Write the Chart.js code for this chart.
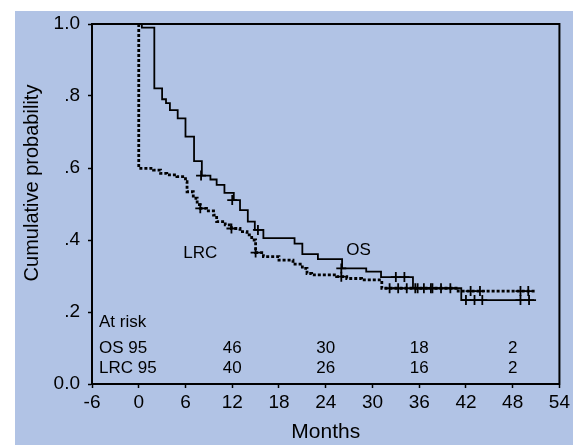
<!DOCTYPE html>
<html>
<head>
<meta charset="utf-8">
<script src="https://cdn.jsdelivr.net/npm/chart.js@4/dist/chart.umd.min.js"></script>
<style>
  html, body { margin: 0; padding: 0; background: #fff; }
  #wrap { width: 573px; height: 445px; }
</style>
</head>
<body>
<div id="wrap"><canvas id="km"></canvas></div>
<script>
// OS curve: month of each step and the probability after it
const osMonths = [0, 0.4, 2.0, 3.0, 3.5, 4.0, 5.0, 6.0, 7.1, 8.1, 9.2, 10.0, 11.0, 12.2, 13.0, 14.0, 14.9, 16.0, 20.0, 21.0, 23.0, 26.1, 29.2, 31.1, 35.2, 41.4, 51.0];
const osSurv = [1.0, 0.99, 0.821, 0.791, 0.78, 0.761, 0.738, 0.687, 0.619, 0.579, 0.568, 0.553, 0.531, 0.511, 0.483, 0.451, 0.428, 0.405, 0.39, 0.361, 0.347, 0.321, 0.312, 0.297, 0.266, 0.233, 0.233];

// LRC curve
const lrcMonths = [0, 0, 1.9, 2.8, 3.6, 4.9, 6.0, 6.2, 7.0, 7.5, 7.9, 8.7, 9.6, 10.0, 11.1, 11.9, 13.0, 13.9, 14.5, 15.0, 16.0, 18.0, 19.8, 21.0, 21.6, 22.2, 25.4, 26.7, 28.6, 31.2, 41.0, 51.0];
const lrcSurv = [1.0, 0.599, 0.594, 0.585, 0.581, 0.576, 0.562, 0.534, 0.516, 0.498, 0.488, 0.481, 0.469, 0.451, 0.442, 0.432, 0.423, 0.414, 0.40, 0.365, 0.354, 0.344, 0.333, 0.321, 0.307, 0.303, 0.298, 0.293, 0.289, 0.266, 0.258, 0.258];

// censored patients (+ marks)
const osCensMonths = [8.0, 12.0, 15.3, 26.0, 33.0, 34.1, 35.8, 37.5, 42.0, 43.1, 44.1, 49.0, 50.1];
const osCensSurv = [0.579, 0.511, 0.428, 0.321, 0.297, 0.297, 0.266, 0.266, 0.233, 0.233, 0.233, 0.233, 0.233];
const lrcCensMonths = [7.9, 11.9, 15.0, 26.0, 32.2, 33.3, 34.4, 35.5, 36.6, 37.7, 38.8, 40.0, 42.6, 43.8, 49.0, 50.0];
const lrcCensSurv = [0.488, 0.432, 0.365, 0.298, 0.266, 0.266, 0.266, 0.266, 0.266, 0.266, 0.266, 0.266, 0.258, 0.258, 0.258, 0.258];

// numbers at risk
const riskMonths = [12, 24, 36, 48];
const osAtRisk = [46, 30, 18, 2];
const lrcAtRisk = [40, 26, 16, 2];

const yTickLabels = ['0.0', '.2', '.4', '.6', '.8', '1.0'];

const FONT = '"Liberation Sans", Arial, sans-serif';

function pts(xs, ys) {
    return xs.map((m, i) => ({ x: m, y: ys[i] }));
}

const extras = {
    id: 'extras',
    beforeDraw(chart) {
        const ctx = chart.ctx;
        ctx.save();
        ctx.fillStyle = '#b1c3e5';
        ctx.fillRect(15, 11, chart.width - 15, chart.height - 11);
        ctx.restore();
    },
    afterDraw(chart) {
        const { ctx, chartArea: a } = chart;
        const x = chart.scales.x, y = chart.scales.y;
        ctx.save();
        ctx.strokeStyle = '#000';
        ctx.lineWidth = 2;
        ctx.strokeRect(a.left, a.top, a.right - a.left, a.bottom - a.top);

        ctx.fillStyle = '#000';
        ctx.textBaseline = 'middle';
        ctx.font = '17px ' + FONT;

        // curve labels
        ctx.textAlign = 'center';
        ctx.fillText('LRC', x.getPixelForValue(7.9), y.getPixelForValue(0.364));
        ctx.fillText('OS', x.getPixelForValue(28.2), y.getPixelForValue(0.372));

        // at risk table
        ctx.textAlign = 'left';
        const lx = x.getPixelForValue(-5.1);
        ctx.fillText('At risk', lx, y.getPixelForValue(0.17));
        ctx.fillText('OS 95', lx, y.getPixelForValue(0.099));
        ctx.fillText('LRC 95', lx, y.getPixelForValue(0.044));
        ctx.textAlign = 'center';
        riskMonths.forEach((m, i) => {
            ctx.fillText(String(osAtRisk[i]), x.getPixelForValue(m), y.getPixelForValue(0.099));
            ctx.fillText(String(lrcAtRisk[i]), x.getPixelForValue(m), y.getPixelForValue(0.044));
        });

        // y axis title
        ctx.translate(32, 183);
        ctx.rotate(-Math.PI / 2);
        ctx.font = '20px ' + FONT;
        ctx.fillText('Cumulative probability', 0, 0);
        ctx.restore();
    }
};

new Chart(document.getElementById('km'), {
    type: 'line',
    data: {
        datasets: [{
            label: 'OS',
            data: pts(osMonths, osSurv),
            borderColor: '#000',
            borderWidth: 1.8,
            stepped: 'before',
            pointRadius: 0,
            fill: false
        }, {
            label: 'LRC',
            data: pts(lrcMonths, lrcSurv),
            borderColor: '#000',
            borderWidth: 2.8,
            borderDash: [3, 2],
            stepped: 'before',
            pointRadius: 0,
            fill: false
        }, {
            label: 'OS censored',
            data: pts(osCensMonths, osCensSurv),
            showLine: false,
            pointStyle: 'cross',
            pointRadius: 5,
            borderColor: '#000',
            pointBorderWidth: 1.8
        }, {
            label: 'LRC censored',
            data: pts(lrcCensMonths, lrcCensSurv),
            showLine: false,
            pointStyle: 'cross',
            pointRadius: 5,
            borderColor: '#000',
            pointBorderWidth: 1.8
        }]
    },
    options: {
        responsive: true,
        maintainAspectRatio: false,
        animation: false,
        layout: { padding: { left: 0, top: 24, right: 12, bottom: 0 } },
        plugins: {
            legend: { display: false },
            tooltip: { enabled: false }
        },
        scales: {
            x: {
                type: 'linear',
                min: -6,
                max: 54,
                ticks: { stepSize: 6, color: '#000', font: { family: FONT, size: 19 }, padding: 3, maxRotation: 0 },
                grid: { drawOnChartArea: false, drawTicks: true, tickLength: 4, tickColor: '#000', tickWidth: 1.5 },
                border: { color: '#000', width: 2 },
                title: { display: true, text: 'Months', color: '#000', font: { family: FONT, size: 21 }, padding: { top: 0, bottom: 0 } },
                afterFit(s) { s.height = 61; }
            },
            y: {
                min: 0,
                max: 1,
                ticks: { stepSize: 0.2, color: '#000', font: { family: FONT, size: 19 }, padding: 8,
                    callback: v => yTickLabels[Math.round(v * 5)] },
                grid: { drawOnChartArea: false, drawTicks: true, tickLength: 4, tickColor: '#000', tickWidth: 1.5 },
                border: { color: '#000', width: 2 },
                afterFit(s) { s.width = 92; }
            }
        }
    },
    plugins: [extras]
});
</script>
</body>
</html>
